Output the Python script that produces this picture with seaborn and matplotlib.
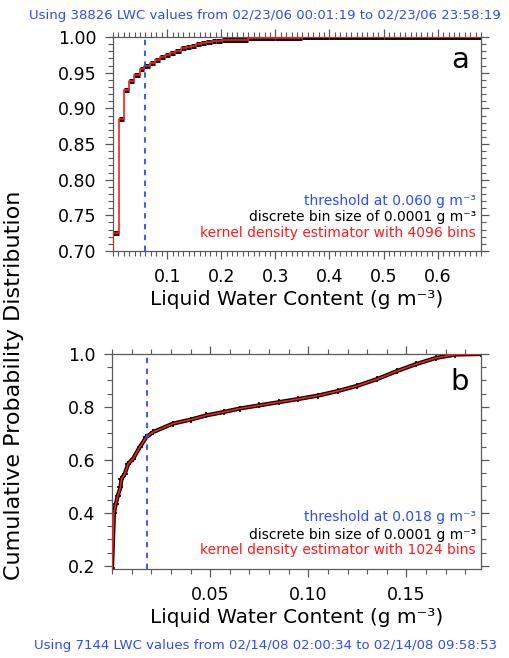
import numpy as np
import pandas as pd
import matplotlib
matplotlib.use('Agg')
import matplotlib.pyplot as plt
import seaborn as sns

# DATA
# panel a: 02/23/06, cumulative distribution (staircase, LWC quantised)
lwc_a = [0.0, 0.011, 0.020, 0.030, 0.039, 0.049, 0.058, 0.068, 0.077, 0.087,
         0.096, 0.106, 0.115, 0.125, 0.134, 0.144, 0.153, 0.163, 0.172, 0.182,
         0.191, 0.201, 0.25, 0.30, 0.35, 0.40, 0.50, 0.68]
cdf_a = [0.725, 0.885, 0.926, 0.938, 0.947, 0.955, 0.960, 0.964, 0.968, 0.972,
         0.975, 0.978, 0.981, 0.984, 0.986, 0.988, 0.990, 0.991, 0.993, 0.994,
         0.995, 0.996, 0.998, 0.999, 0.9995, 1.0, 1.0, 1.0]
start_a = 0.69

# panel b: 02/14/08
lwc_b = [0.0, 0.001, 0.0019, 0.003, 0.0043, 0.0048, 0.0065, 0.0082, 0.0107,
         0.0141, 0.0175, 0.0209, 0.031, 0.040, 0.048, 0.057, 0.065, 0.075,
         0.085, 0.095, 0.105, 0.115, 0.125, 0.135, 0.145, 0.155, 0.165, 0.175,
         0.188]
cdf_b = [0.19, 0.40, 0.433, 0.465, 0.496, 0.528, 0.547, 0.585, 0.604, 0.648,
         0.686, 0.705, 0.737, 0.752, 0.768, 0.781, 0.794, 0.806, 0.818, 0.830,
         0.843, 0.860, 0.880, 0.905, 0.935, 0.962, 0.985, 0.998, 1.0]

thresholds = [0.060, 0.018]
bins = [4096, 1024]
header = 'Using 38826 LWC values from 02/23/06 00:01:19 to 02/23/06 23:58:19'
footer = 'Using 7144 LWC values from 02/14/08 02:00:34 to 02/14/08 09:58:53'

BLUE = '#2b4cff'
RED = '#ff1a1a'
GREY = '0.35'

sns.set_style('ticks')
plt.rcParams['font.family'] = ['DejaVu Sans']
plt.rcParams['text.color'] = 'black'
plt.rcParams['axes.labelcolor'] = 'black'

fig = plt.figure(figsize=(5.10, 6.58), dpi=100)
ax_a = fig.add_axes([0.2216, 0.6185, 0.7216, 0.3252])
ax_b = fig.add_axes([0.2196, 0.1353, 0.7235, 0.3267])

# panel a
xa = [0.0] + lwc_a
ya = [start_a] + cdf_a
ax_a.hlines(cdf_a[:-1], lwc_a[:-1], lwc_a[1:], color='black', lw=3.5, zorder=2)
df_a = pd.DataFrame({'lwc': xa, 'cdf': ya})
sns.lineplot(data=df_a, x='lwc', y='cdf', ax=ax_a, color=RED, lw=1.2,
             drawstyle='steps-post', estimator=None, sort=False, zorder=3)

# panel b
df_b = pd.DataFrame({'lwc': lwc_b, 'cdf': cdf_b})
sns.lineplot(data=df_b, x='lwc', y='cdf', ax=ax_b, color='black', lw=3,
             marker='+', markersize=5, mec='black', mew=1.2,
             estimator=None, sort=False, zorder=2)
sns.lineplot(data=df_b, x='lwc', y='cdf', ax=ax_b, color=RED, lw=1.2,
             estimator=None, sort=False, zorder=3)

panels = [
    (ax_a, (0, 0.68), (0.70, 1.00), 0.1, 0.01, 0.05, 0.01, '%.1f', '%.2f', 'a',
     (0.232, 0.159, 0.084), 0.893),
    (ax_b, (0, 0.188), (0.188, 1.0), 0.05, 0.01, 0.2, 0.05, '%.2f', '%.1f', 'b',
     (0.240, 0.160, 0.088), 0.87),
]

for i, (ax, xl, yl, xmaj, xmin, ymaj, ymin, xfmt, yfmt, tag, ty, tagy) in enumerate(panels):
    ax.axvline(thresholds[i], color=BLUE, lw=1.3, ls=(0, (3, 3)), zorder=4)
    ax.set_xlim(*xl)
    ax.set_ylim(*yl)
    ax.xaxis.set_major_locator(matplotlib.ticker.MultipleLocator(xmaj))
    ax.xaxis.set_minor_locator(matplotlib.ticker.MultipleLocator(xmin))
    ax.yaxis.set_major_locator(matplotlib.ticker.MultipleLocator(ymaj))
    ax.yaxis.set_minor_locator(matplotlib.ticker.MultipleLocator(ymin))
    ax.xaxis.set_major_formatter(matplotlib.ticker.FormatStrFormatter(xfmt))
    ax.yaxis.set_major_formatter(matplotlib.ticker.FormatStrFormatter(yfmt))
    ax.tick_params(which='both', direction='out', top=True, right=True,
                   color=GREY, labelcolor='black', labelsize=12.5, pad=6)
    ax.tick_params(which='major', length=6, width=0.9)
    ax.tick_params(which='minor', length=3.5, width=0.8)
    for s in ax.spines.values():
        s.set_visible(True)
        s.set_color(GREY)
        s.set_linewidth(0.9)
    # no label at 0 (IDL style)
    ax.set_xticks([t for t in ax.get_xticks() if t > 1e-9 and t <= xl[1]])
    ax.set_xlim(*xl)
    ax.set_xlabel('Liquid Water Content (g m⁻³)', fontsize=14.5, labelpad=3)
    ax.set_ylabel('')
    ax.text(0.986, ty[0], 'threshold at %.3f g m⁻³' % thresholds[i],
            color=BLUE, fontsize=10, ha='right', va='center', transform=ax.transAxes)
    ax.text(0.986, ty[1], 'discrete bin size of 0.0001 g m⁻³',
            color='black', fontsize=10, ha='right', va='center', transform=ax.transAxes)
    ax.text(0.986, ty[2], 'kernel density estimator with %d bins' % bins[i],
            color=RED, fontsize=10, ha='right', va='center', transform=ax.transAxes)
    ax.text(0.943, tagy, tag, fontsize=21, ha='center', va='center',
            transform=ax.transAxes)

fig.text(14 / 510, 1 - 385 / 658, 'Cumulative Probability Distribution',
         rotation=90, fontsize=16, ha='center', va='center')
fig.text(265 / 510, 1 - 15 / 658, header, color=BLUE, fontsize=9.5,
         ha='center', va='center')
fig.text(266 / 510, 1 - 645 / 658, footer, color=BLUE, fontsize=9.5,
         ha='center', va='center')

fig.savefig('out.png', dpi=100)
